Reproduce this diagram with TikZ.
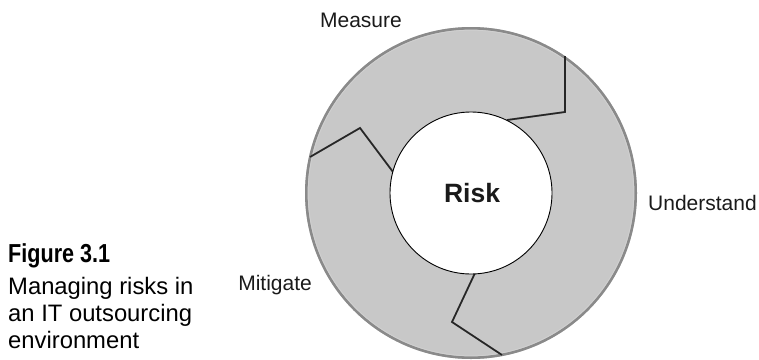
\documentclass[tikz,border=0pt]{standalone}
\usepackage{fontspec}
\setmainfont{Liberation Sans}
\newfontfamily\capfont{Liberation Sans}
\newfontfamily\capboldfont[FakeStretch=0.83]{Liberation Sans Bold}
\definecolor{ringgray}{HTML}{C8C8C8}
\definecolor{rimgray}{HTML}{8A8A8A}
\definecolor{shadowgray}{HTML}{808080}
\definecolor{labelcol}{HTML}{1A1A1A}
\tikzset{
  lbl/.style={inner sep=0pt, text=labelcol, font=\fontsize{21}{24}\selectfont},
  risklbl/.style={inner sep=0pt, text=labelcol, font=\bfseries\fontsize{26.5}{30}\selectfont},
  captitle/.style={inner sep=0pt, anchor=base west, font=\capboldfont\fontsize{26}{30}\selectfont},
  capline/.style={inner sep=0pt, anchor=base west, font=\capfont\fontsize{23.8}{28}\selectfont},
  sepline/.style={line width=1.6pt, line join=miter, black!85},
  sepshadow/.style={line width=1.8pt, shadowgray, xshift=1.2pt, yshift=-1.2pt},
}
\begin{document}
\begin{tikzpicture}[x=1pt,y=-1pt]
\useasboundingbox (0,0) rectangle (759,359);
\coordinate (C) at (471,193);
% ring
\fill[ringgray, even odd rule] (C) circle (166pt) (C) circle (81pt);
\draw[rimgray, line width=2.6pt] (C) circle (164.7pt);
\draw[white!60!rimgray, line width=0.8pt] (C) circle (162.8pt);
% separators
\coordinate (a1) at (507,120); \coordinate (a2) at (565,112); \coordinate (a3) at (565,56);
\coordinate (b1) at (310,157); \coordinate (b2) at (360,128); \coordinate (b3) at (393,172);
\coordinate (c1) at (475,273); \coordinate (c2) at (452,322); \coordinate (c3) at (502,355);
\draw[sepshadow] (a1) -- (a2) -- (a3);
\draw[sepshadow] (b1) -- (b2) -- (b3);
\draw[sepshadow] (c1) -- (c2) -- (c3);
\draw[sepline] (a1) -- (a2) -- (a3);
\draw[sepline] (b1) -- (b2) -- (b3);
\draw[sepline] (c1) -- (c2) -- (c3);
% inner circle
\draw[fill=white, line width=0.9pt] (C) circle (81pt);
% labels
\node[risklbl, anchor=base] (risk) at (472,202) {Risk};
\node[lbl, anchor=base] (measure) at (361,27) {Measure};
\node[lbl, anchor=base west] (understand) at (648,210) {Understand};
\node[lbl, anchor=base east] (mitigate) at (312,290) {Mitigate};
% caption
\node[captitle] (fig) at (8,262) {Figure 3.1};
\node[capline] (cap1) at (8,294) {Managing risks in};
\node[capline] (cap2) at (8,321) {an IT outsourcing};
\node[capline] (cap3) at (8,348) {environment};
\end{tikzpicture}
\end{document}
